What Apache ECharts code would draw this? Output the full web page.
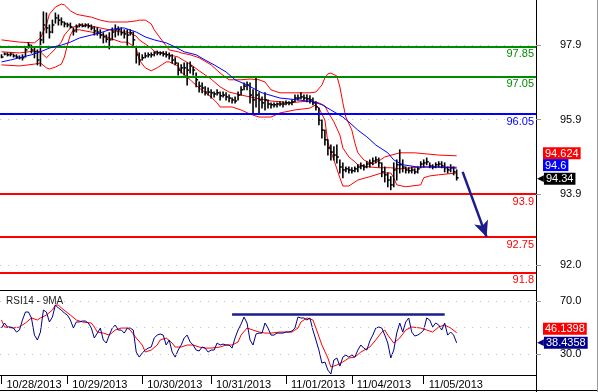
<!DOCTYPE html>
<html><head><meta charset="utf-8">
<script src="https://cdn.jsdelivr.net/npm/echarts@6/dist/echarts.min.js"></script>
<style>html,body{margin:0;padding:0;background:#fff}#c{width:598px;height:392px}</style>
</head><body><div id="c"></div>
<script>
const FONT = "'Liberation Sans', Arial, sans-serif";
const dayLabels = ['10/28/2013','10/29/2013','10/30/2013','10/31/2013','11/01/2013','11/04/2013','11/05/2013'];
const dayStarts = [0,22,47,70,95,117,141];
const slotCount = 179;

const barHigh = [97.64,97.69,97.69,97.69,97.66,97.64,97.61,97.64,97.85,97.96,
97.90,97.85,97.77,98.25,98.79,98.76,98.44,98.57,98.76,98.71,
98.63,98.52,98.49,98.49,98.36,98.44,98.47,98.47,98.47,98.47,
98.44,98.39,98.36,98.31,98.23,98.17,98.23,98.36,98.44,98.39,
98.36,98.31,98.31,98.31,98.25,97.82,97.69,97.64,97.69,97.69,
97.69,97.72,97.74,97.72,97.72,97.72,97.69,97.64,97.56,97.42,
97.37,97.42,97.42,97.45,97.31,97.15,96.91,96.88,96.78,96.75,
96.70,96.64,96.70,96.64,96.64,96.62,96.56,96.48,96.51,96.64,
96.78,96.88,96.91,96.88,96.70,97.02,96.62,96.51,96.62,96.43,
96.35,96.35,96.35,96.38,96.38,96.40,96.38,96.43,96.56,96.56,
96.62,96.56,96.56,96.54,96.48,96.38,96.21,95.89,95.62,95.36,
95.22,95.17,95.22,94.82,94.74,94.63,94.63,94.61,94.63,94.69,
94.74,94.69,94.77,94.82,94.87,94.90,94.87,94.74,94.63,94.47,
94.37,94.74,94.82,95.09,94.82,94.63,94.61,94.63,94.58,94.63,
94.77,94.82,94.87,94.74,94.69,94.74,94.77,94.77,94.74,94.63,
94.69,94.63,94.55];
const barLow = [97.56,97.64,97.61,97.61,97.58,97.56,97.53,97.50,97.58,97.82,
97.69,97.56,97.37,97.34,97.96,98.23,98.09,98.23,98.49,98.44,
98.44,98.39,98.39,98.36,98.17,98.25,98.39,98.39,98.39,98.36,
98.31,98.17,98.17,98.09,97.96,97.98,97.80,98.04,98.12,98.17,
98.17,98.09,97.90,98.17,97.90,97.42,97.37,97.50,97.56,97.58,
97.58,97.61,97.64,97.64,97.61,97.58,97.53,97.42,97.37,97.10,
97.15,97.10,96.83,97.15,97.10,96.78,96.64,96.62,96.56,96.56,
96.48,96.51,96.56,96.43,96.51,96.43,96.38,96.35,96.35,96.43,
96.56,96.70,96.70,96.35,96.08,96.24,96.08,96.21,96.16,96.21,
96.21,96.24,96.24,96.27,96.24,96.30,96.30,96.30,96.38,96.43,
96.46,96.43,96.38,96.35,96.30,96.16,95.76,95.41,95.22,94.95,
94.82,94.82,94.74,94.47,94.34,94.50,94.47,94.47,94.50,94.50,
94.58,94.55,94.61,94.63,94.69,94.74,94.63,94.37,94.23,94.10,
94.02,94.10,94.28,94.47,94.50,94.47,94.47,94.47,94.45,94.47,
94.61,94.63,94.69,94.61,94.58,94.61,94.63,94.61,94.50,94.47,
94.50,94.42,94.28];
const barClose = [97.58,97.66,97.64,97.66,97.61,97.58,97.56,97.56,97.77,97.90,
97.77,97.72,97.50,98.04,98.44,98.36,98.25,98.44,98.63,98.57,
98.52,98.47,98.44,98.39,98.28,98.39,98.44,98.41,98.44,98.41,
98.36,98.28,98.25,98.17,98.12,98.06,98.04,98.25,98.31,98.31,
98.23,98.20,98.17,98.23,98.04,97.64,97.50,97.56,97.61,97.64,
97.64,97.69,97.69,97.69,97.66,97.64,97.61,97.50,97.42,97.23,
97.29,97.29,97.23,97.34,97.23,96.97,96.80,96.75,96.64,96.64,
96.62,96.59,96.62,96.54,96.56,96.51,96.48,96.43,96.40,96.56,
96.70,96.80,96.83,96.56,96.43,96.56,96.43,96.35,96.43,96.32,
96.30,96.30,96.32,96.32,96.32,96.35,96.35,96.38,96.48,96.48,
96.51,96.48,96.46,96.43,96.35,96.24,95.89,95.62,95.36,95.14,
95.03,94.95,94.90,94.63,94.55,94.58,94.55,94.53,94.58,94.63,
94.66,94.63,94.71,94.74,94.79,94.82,94.74,94.50,94.42,94.28,
94.15,94.55,94.69,94.69,94.63,94.55,94.53,94.55,94.50,94.58,
94.71,94.74,94.77,94.66,94.63,94.69,94.71,94.66,94.61,94.55,
94.61,94.50,94.34];

const bbUpper = [[0,98.04],[6,97.98],[11,97.96],[13,98.09],[15,98.44],[16,98.73],[18,98.92],[20,99.00],[21,98.98],[23,98.82],[25,98.73],[26,98.71],[30,98.65],[33,98.57],[36,98.52],[40,98.52],[42,98.52],[45,98.55],[46,98.57],[48,98.57],[50,98.47],[51,98.31],[53,98.09],[55,97.88],[56,97.77],[59,97.72],[60,97.69],[63,97.64],[66,97.56],[70,97.37],[73,97.15],[76,96.97],[80,96.97],[83,96.99],[86,96.97],[88,96.91],[90,96.70],[93,96.62],[98,96.62],[103,96.62],[105,96.64],[107,96.83],[108,97.02],[109,97.13],[110,97.15],[112,97.07],[113,96.78],[114,96.35],[115,95.97],[117,95.62],[118,95.28],[119,95.01],[121,94.82],[123,94.74],[124,94.71],[126,94.79],[128,94.90],[133,95.01],[138,95.01],[146,94.95],[152,94.93]];
const bbMiddle = [[0,97.72],[6,97.69],[11,97.74],[13,97.72],[15,97.56],[16,97.64],[18,97.80],[20,97.98],[21,98.17],[23,98.36],[25,98.41],[26,98.44],[30,98.41],[33,98.36],[36,98.31],[40,98.25],[42,98.25],[45,98.14],[46,98.04],[48,97.93],[50,97.82],[51,97.74],[53,97.69],[55,97.66],[56,97.64],[59,97.58],[60,97.53],[63,97.39],[66,97.21],[70,96.99],[73,96.78],[76,96.64],[80,96.56],[83,96.51],[86,96.46],[90,96.40],[93,96.38],[96,96.35],[100,96.38],[103,96.40],[106,96.35],[108,96.27],[109,96.11],[111,95.84],[113,95.49],[114,95.14],[116,94.90],[118,94.77],[119,94.69],[123,94.63],[126,94.61],[130,94.61],[133,94.58],[140,94.63],[146,94.63],[152,94.624]];
const bbLower = [[0,97.37],[6,97.34],[11,97.39],[13,97.42],[15,97.29],[16,97.26],[18,97.31],[20,97.39],[21,97.58],[22,97.90],[23,98.17],[24,98.31],[26,98.31],[30,98.25],[33,98.20],[36,98.09],[40,97.98],[42,97.98],[45,97.82],[46,97.50],[48,97.29],[50,97.21],[52,97.29],[55,97.45],[56,97.45],[59,97.34],[60,97.18],[63,96.97],[66,96.75],[70,96.51],[72,96.35],[73,96.24],[77,96.24],[80,96.16],[83,96.05],[86,95.97],[90,95.97],[93,96.08],[98,96.16],[103,96.21],[105,96.30],[106,96.21],[108,95.89],[109,95.28],[111,94.82],[113,94.34],[114,94.12],[116,94.12],[119,94.28],[123,94.37],[127,94.47],[130,94.47],[131,94.34],[132,94.15],[135,94.10],[140,94.15],[141,94.34],[143,94.39],[146,94.42],[152,94.47]];
const maBlue = [[0,97.45],[3,97.50],[6,97.56],[10,97.64],[13,97.72],[16,97.82],[20,97.90],[23,97.98],[26,98.09],[30,98.17],[33,98.23],[36,98.31],[40,98.36],[41,98.36],[45,98.25],[48,98.12],[51,98.04],[55,97.96],[58,97.85],[61,97.72],[65,97.64],[68,97.50],[71,97.37],[75,97.18],[78,96.97],[82,96.83],[87,96.62],[93,96.48],[99,96.43],[104,96.38],[107,96.30],[110,96.16],[114,95.97],[116,95.84],[119,95.62],[122,95.44],[125,95.22],[129,95.01],[131,94.82],[134,94.69],[139,94.63],[145,94.63],[152,94.6]];

const rsi = [49.6,53.4,50.4,50.4,49.6,46.6,48.1,55.7,61.7,61.7,
57.2,44.3,40.6,46.6,63.2,61.7,54.2,57.9,67.0,64.7,
63.2,60.9,59.4,55.7,49.6,54.2,54.2,54.9,54.9,53.4,
49.6,42.1,45.8,49.6,40.6,38.3,44.3,49.6,51.9,48.1,
48.1,45.8,49.6,49.6,48.1,31.5,27.7,30.8,33.0,34.5,
35.3,42.1,44.3,45.1,44.3,36.8,40.6,31.5,27.7,33.0,
36.8,42.1,44.3,39.1,36.8,33.0,32.3,35.3,34.5,31.5,
33.0,33.0,38.3,36.8,37.5,36.8,36.8,34.5,42.1,48.1,
52.6,57.9,53.4,40.6,36.8,45.1,45.8,45.8,53.4,49.6,
44.3,44.3,45.8,45.8,45.8,46.6,46.6,47.4,49.6,57.9,
57.2,57.2,55.7,57.2,48.1,40.6,33.0,23.2,24.0,17.9,
14.9,25.5,27.0,20.9,27.7,29.2,27.7,29.2,27.7,33.0,
36.8,34.5,33.0,39.8,44.3,49.6,50.4,49.6,44.3,38.3,
27.0,33.0,45.8,53.4,46.6,54.2,57.2,46.6,43.6,44.3,
45.8,48.1,57.2,55.7,50.4,53.4,51.9,48.1,53.4,44.3,
46.6,44.3,38.4358];
const rsiMA = [[0,55.7],[1,50.4],[4,49.6],[6,50.4],[8,53.4],[10,57.2],[12,55.7],[13,57.2],[15,59.4],[17,63.2],[18,67.0],[19,67.0],[20,64.7],[23,59.4],[25,55.7],[27,54.2],[30,53.4],[31,50.4],[32,46.6],[34,45.8],[36,44.3],[38,48.1],[40,49.6],[42,49.6],[43,48.1],[45,42.1],[47,36.8],[48,31.5],[50,33.0],[52,36.8],[53,40.6],[55,42.1],[57,38.3],[58,35.3],[60,35.3],[62,36.8],[64,36.8],[66,35.3],[68,34.5],[70,34.5],[73,35.3],[75,36.8],[77,36.8],[79,39.1],[80,44.3],[82,49.6],[84,48.1],[86,46.6],[88,45.8],[90,45.8],[93,46.6],[95,46.6],[97,46.6],[99,49.6],[100,54.2],[102,57.2],[104,55.7],[105,49.6],[107,36.8],[109,27.0],[110,20.2],[112,21.7],[114,24.0],[116,27.0],[118,27.7],[120,31.5],[123,35.3],[125,40.6],[127,46.6],[128,48.1],[129,44.3],[131,38.3],[133,42.1],[135,48.1],[137,50.4],[140,49.6],[142,48.1],[144,46.6],[146,50.4],[148,51.9],[150,49.6],[152,46.1398]];

const greenLevels = [97.85, 97.05];
const blueLevels = [96.05];
const redLevels = [93.9, 92.75, 91.8];
const priceTicks = [97.9, 95.9, 93.9, 92.0];
const rsiTicks = [70, 30];
const rsiGridVals = [30, 50, 70];
const rsiResistance = [[77, 60], [148, 60]];
const arrowPath = [[154, 94.5], [162, 92.75]];

const cats = Array.from({length: slotCount}, (_, i) => String(i));
const last = a => a[a.length - 1];
const lastY = a => last(a)[1];

function level(v, color) {
  return {yAxis: v, lineStyle: {color: color, width: 2, type: 'solid'},
    label: {show: true, position: 'insideEndBottom', distance: 2, formatter: String(v), color: color,
      fontSize: 11, fontFamily: FONT}};
}
function dotted(v) {
  return {yAxis: v, lineStyle: {color: '#c4c4c4', width: 1, type: [1, 7]}, label: {show: false}};
}
function valueBox(v, bg, dy, pointer) {
  const txt = String(v);
  return {yAxis: v, lineStyle: {color: 'rgba(255,255,255,0)', width: 0.01, type: 'solid'},
    label: {show: true, position: 'end', distance: pointer ? 1 : 7, offset: [0, dy],
      formatter: pointer ? '{p|\u25C0}{b|' + txt + '}' : '{b|' + txt + '}',
      rich: {
        p: {color: bg, fontSize: 9, fontFamily: 'DejaVu Sans', padding: [0, 0, 0, 0]},
        b: {backgroundColor: bg, color: '#fff', fontSize: 11, fontFamily: FONT, padding: [1, 2, 0, 2], lineHeight: 12}
      }}};
}

const chart = echarts.init(document.getElementById('c'), null, {renderer: 'canvas'});
chart.setOption({
  animation: false,
  backgroundColor: '#fff',
  title: {text: 'RSI14 - 9MA', left: 1, top: 291, textStyle: {fontSize: 10, fontWeight: 'normal', color: '#222', fontFamily: FONT}},
  grid: [
    {left: 0, right: 62, top: 0, height: 290},
    {left: 0, right: 62, top: 290, height: 85}
  ],
  xAxis: [
    {type: 'category', gridIndex: 0, data: cats, boundaryGap: true,
      axisLine: {show: true, onZero: false, lineStyle: {color: '#000', width: 1}}, axisTick: {show: false}, axisLabel: {show: false}, splitLine: {show: false}},
    {type: 'category', gridIndex: 1, data: cats, boundaryGap: true,
      axisLine: {show: true, onZero: false, lineStyle: {color: '#000', width: 1}},
      axisTick: {show: true, alignWithLabel: true, length: 9, interval: (i) => dayStarts.includes(i), lineStyle: {color: '#000'}},
      axisLabel: {show: true, interval: (i) => dayStarts.includes(i), formatter: (v, i) => dayLabels[dayStarts.indexOf(i)] || '',
        align: 'left', padding: [0, 0, 0, 5], margin: 4, color: '#000', fontSize: 11, fontFamily: FONT},
      splitLine: {show: false}}
  ],
  yAxis: [
    {type: 'value', gridIndex: 0, position: 'right', min: 91.33, max: 99.11, splitLine: {show: false},
      axisLine: {show: true, lineStyle: {color: '#000'}},
      axisTick: {show: true, customValues: priceTicks, length: 5, lineStyle: {color: '#999'}},
      axisLabel: {show: true, customValues: priceTicks, formatter: v => v.toFixed(1), margin: 24, color: '#000', fontSize: 11, fontFamily: FONT}},
    {type: 'value', gridIndex: 1, position: 'right', min: 14.2, max: 78.3, splitLine: {show: false},
      axisLine: {show: true, lineStyle: {color: '#000'}},
      axisTick: {show: true, customValues: rsiTicks, length: 5, lineStyle: {color: '#999'}},
      axisLabel: {show: true, customValues: rsiTicks, formatter: v => v.toFixed(1), margin: 24, color: '#000', fontSize: 11, fontFamily: FONT}}
  ],
  series: [
    {type: 'line', xAxisIndex: 0, yAxisIndex: 0, data: bbUpper, symbol: 'none', z: 1,
      lineStyle: {color: '#ff0000', width: 1},
      markLine: {silent: true, symbol: ['none', 'none'], animation: false, data: priceTicks.map(dotted)}},
    {type: 'line', xAxisIndex: 0, yAxisIndex: 0, data: bbMiddle, symbol: 'none', z: 2, lineStyle: {color: '#ff0000', width: 1}},
    {type: 'line', xAxisIndex: 0, yAxisIndex: 0, data: bbLower, symbol: 'none', z: 2, lineStyle: {color: '#ff0000', width: 1}},
    {type: 'custom', xAxisIndex: 0, yAxisIndex: 0, z: 3,
      data: barHigh.map((h, i) => [i, h, barLow[i], barClose[i]]),
      encode: {x: 0, y: [1, 2, 3]},
      renderItem: (params, api) => {
        const x = api.value(0);
        const hi = api.coord([x, api.value(1)]);
        const lo = api.coord([x, api.value(2)]);
        const cl = api.coord([x, api.value(3)]);
        return {type: 'group', children: [
          {type: 'line', shape: {x1: hi[0], y1: hi[1] - 0.5, x2: lo[0], y2: lo[1] + 0.5}, style: {stroke: '#000', lineWidth: 1.6}},
          {type: 'line', shape: {x1: cl[0], y1: cl[1], x2: cl[0] + 2, y2: cl[1]}, style: {stroke: '#000', lineWidth: 1.5}}
        ]};
      }},
    {type: 'line', xAxisIndex: 0, yAxisIndex: 0, data: maBlue, symbol: 'none', z: 5, lineStyle: {color: '#0000ff', width: 1},
      markLine: {silent: true, symbol: ['none', 'none'], animation: false, data: [
        ...greenLevels.map(v => level(v, '#008c00')),
        ...blueLevels.map(v => level(v, '#0000ff')),
        ...redLevels.map(v => level(v, '#ff0000')),
        valueBox(lastY(bbMiddle), '#ff0000', -14, false),
        valueBox(lastY(maBlue), '#0000ff', -3, false),
        valueBox(last(barClose), '#000000', 1, true),
        [{coord: arrowPath[0], symbol: 'none', lineStyle: {color: '#1c1c8c', width: 2.5, type: 'solid', curveness: 0.08}},
         {coord: arrowPath[1], symbol: 'arrow', symbolSize: [11, 16]}]
      ]}},
    {type: 'line', xAxisIndex: 1, yAxisIndex: 1, data: rsiMA, symbol: 'none', z: 2, lineStyle: {color: '#ff0000', width: 1},
      markLine: {silent: true, symbol: ['none', 'none'], animation: false, data: rsiGridVals.map(dotted)}},
    {type: 'line', xAxisIndex: 1, yAxisIndex: 1, data: rsi.map((v, i) => [i, v]), symbol: 'none', z: 3, lineStyle: {color: '#00008b', width: 1},
      markLine: {silent: true, symbol: ['none', 'none'], animation: false, data: [
        [{coord: rsiResistance[0], lineStyle: {color: '#1c1c8c', width: 2.5, type: 'solid'}}, {coord: rsiResistance[1]}],
        valueBox(lastY(rsiMA), '#ff0000', -4, false),
        valueBox(last(rsi), '#00008b', 0, true)
      ]}}
  ],
  graphic: [
    {type: 'line', shape: {x1: 536.5, y1: 375, x2: 536.5, y2: 392}, style: {stroke: '#000', lineWidth: 1}, silent: true},
    {type: 'line', shape: {x1: 0, y1: 390.5, x2: 598, y2: 390.5}, style: {stroke: '#000', lineWidth: 1}, silent: true},
    {type: 'line', shape: {x1: 597.5, y1: 0, x2: 597.5, y2: 392}, style: {stroke: '#999', lineWidth: 1}, silent: true}
  ]
});
</script></body></html>
